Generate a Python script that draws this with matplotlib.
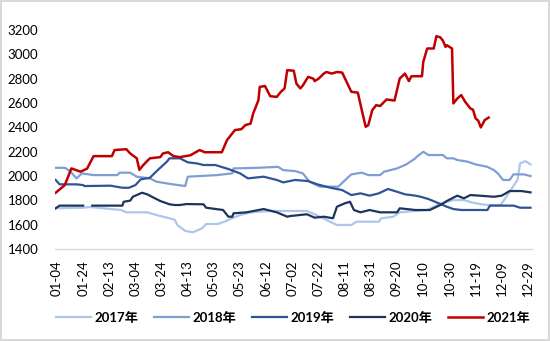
import numpy as np
import matplotlib.pyplot as plt

plt.rcParams['font.family'] = ['Lato', 'Noto Sans CJK SC', 'DejaVu Sans']

# day of year (0-based, 2020 calendar) and price for each year
days_2017 = [2, 23, 28, 52, 56, 72, 77, 84, 89, 93, 95, 101, 107, 114, 117, 126, 131, 138, 143, 151,
             166, 194, 199, 209, 217, 228, 232, 249, 251, 260, 265, 277, 286, 291, 295, 306, 314, 320,
             326, 332, 342, 346, 349, 355, 357, 361, 365]
vals_2017 = [1734, 1739, 1745, 1720, 1701, 1701, 1685, 1665, 1652, 1640, 1597, 1548, 1537, 1570, 1605,
             1605, 1624, 1657, 1679, 1701, 1712, 1712, 1690, 1638, 1597, 1597, 1624, 1624, 1652, 1665,
             1701, 1712, 1720, 1747, 1767, 1802, 1802, 1783, 1769, 1761, 1761, 1821, 1870, 1967, 2103,
             2122, 2095]

days_2018 = [2, 9, 13, 18, 22, 31, 49, 51, 59, 64, 74, 79, 89, 101, 103, 125, 137, 138, 156, 172, 176,
             185, 191, 196, 204, 218, 222, 228, 236, 241, 250, 253, 263, 270, 277, 278, 283, 287, 298,
             301, 306, 309, 317, 323, 332, 337, 340, 344, 349, 352, 360, 365]
vals_2018 = [2067, 2067, 2040, 1980, 2021, 2007, 2007, 2027, 2027, 1994, 1980, 1953, 1935, 1917, 1994,
             2007, 2021, 2062, 2067, 2075, 2048, 2040, 2021, 1953, 1912, 1912, 1953, 2013, 2027, 2007,
             2007, 2035, 2062, 2095, 2145, 2158, 2199, 2172, 2172, 2145, 2145, 2131, 2117, 2095, 2075,
             2048, 2021, 1967, 1967, 2013, 2013, 1999]

days_2019 = [2, 5, 18, 23, 24, 44, 53, 58, 63, 67, 74, 80, 87, 89, 97, 103, 110, 115, 124, 134, 143,
             149, 161, 171, 176, 185, 195, 202, 212, 221, 228, 235, 242, 249, 256, 263, 269, 277, 281,
             287, 292, 301, 306, 312, 332, 334, 352, 357, 365]
vals_2019 = [1967, 1931, 1931, 1925, 1917, 1920, 1903, 1903, 1925, 1972, 1985, 2048, 2117, 2145, 2145,
             2112, 2103, 2090, 2090, 2057, 2021, 1980, 1994, 1967, 1947, 1967, 1958, 1931, 1903, 1884,
             1843, 1857, 1838, 1857, 1893, 1870, 1849, 1838, 1829, 1810, 1788, 1747, 1728, 1720, 1720,
             1756, 1756, 1739, 1739]

# 2020 has no quotes over the extended Spring Festival break
days_2020 = [2, 5, 23, 24, 29, 30, 53, 54, 59, 61, 68, 72, 77, 82, 89, 93, 97, 102, 115, 117, 130, 134,
             137, 138, 148, 161, 171, 179, 181, 194, 200, 207, 214, 217, 223, 227, 230, 235, 242, 250,
             263, 265, 277, 288, 296, 301, 309, 314, 319, 326, 337, 343, 349, 358, 365]
vals_2020 = [1734, 1756, 1756, np.nan, np.nan, 1756, 1756, 1788, 1797, 1829, 1862, 1849, 1821, 1794,
             1767, 1761, 1761, 1769, 1767, 1739, 1720, 1665, 1665, 1693, 1701, 1728, 1701, 1665, 1670,
             1685, 1657, 1665, 1652, 1747, 1775, 1788, 1720, 1701, 1720, 1701, 1701, 1734, 1720, 1720,
             1761, 1794, 1838, 1816, 1843, 1838, 1829, 1838, 1876, 1876, 1865]

days_2021 = [2, 9, 14, 21, 26, 31, 45, 47, 56, 59, 64, 66, 69, 74, 82, 84, 88, 92, 97, 105, 112, 116,
             129, 133, 139, 144, 147, 151, 153, 157, 158, 162, 166, 171, 174, 177, 179, 184, 186, 189,
             191, 195, 199, 200, 203, 207, 209, 213, 217, 221, 225, 228, 233, 236, 239, 241, 244, 247,
             250, 255, 261, 265, 269, 272, 274, 282, 283, 286, 291, 293, 296, 298, 300, 301, 305, 306,
             309, 312, 315, 319, 321, 323, 325, 327, 330, 333]
vals_2021 = [1862, 1925, 2062, 2035, 2060, 2163, 2163, 2213, 2220, 2185, 2145, 2050, 2090, 2145, 2155,
             2185, 2195, 2163, 2155, 2170, 2213, 2195, 2195, 2295, 2377, 2385, 2418, 2430, 2514, 2623,
             2732, 2740, 2656, 2650, 2690, 2720, 2870, 2865, 2760, 2720, 2745, 2815, 2800, 2780, 2800,
             2842, 2855, 2842, 2855, 2850, 2760, 2692, 2685, 2541, 2404, 2418, 2541, 2582, 2575, 2629,
             2620, 2801, 2842, 2780, 2820, 2820, 2938, 3048, 3048, 3149, 3140, 3113, 3061, 3075, 3048,
             2596, 2637, 2665, 2610, 2555, 2545, 2473, 2455, 2399, 2460, 2480]

tick_days = list(range(3, 364, 20))
tick_labels = ['01-04', '01-24', '02-13', '03-04', '03-24', '04-13', '05-03', '05-23', '06-12', '07-02',
               '07-22', '08-11', '08-31', '09-20', '10-10', '10-30', '11-19', '12-09', '12-29']

series = [
    ('2017年', days_2017, vals_2017, '#adc6e9', 1.6),
    ('2018年', days_2018, vals_2018, '#7f9fd4', 1.6),
    ('2019年', days_2019, vals_2019, '#2f5496', 1.6),
    ('2020年', days_2020, vals_2020, '#1c345e', 1.6),
    ('2021年', days_2021, vals_2021, '#c00000', 1.8),
]

fig = plt.figure(figsize=(5.5, 3.41), dpi=100, edgecolor='#d9d9d9', linewidth=1.5)
ax = fig.add_axes([0.1, 0.27, 0.867, 0.642])

for name, d, v, c, lw in series:
    ax.plot(d, v, color=c, linewidth=lw, label=name, solid_joinstyle='round')

ax.set_xlim(1.5, 366)
ax.set_ylim(1400, 3200)
ax.set_yticks(range(1400, 3201, 200))
ax.set_xticks(tick_days)
ax.set_xticklabels(tick_labels, rotation=90)
ax.tick_params(axis='both', length=0, labelsize=9.5, colors='#000000')
ax.tick_params(axis='x', pad=8)
ax.tick_params(axis='y', pad=12)

for s in ['top', 'right', 'left']:
    ax.spines[s].set_visible(False)
ax.spines['bottom'].set_color('#d9d9d9')
ax.spines['bottom'].set_linewidth(1)

ax.legend(loc='center', bbox_to_anchor=(0.5, -0.315), ncol=5, frameon=False,
          prop={'weight': 'bold', 'size': 9.5}, handlelength=2.6, columnspacing=1.2,
          handletextpad=0.3)

fig.savefig('out.png', dpi=100, edgecolor=fig.get_edgecolor())
